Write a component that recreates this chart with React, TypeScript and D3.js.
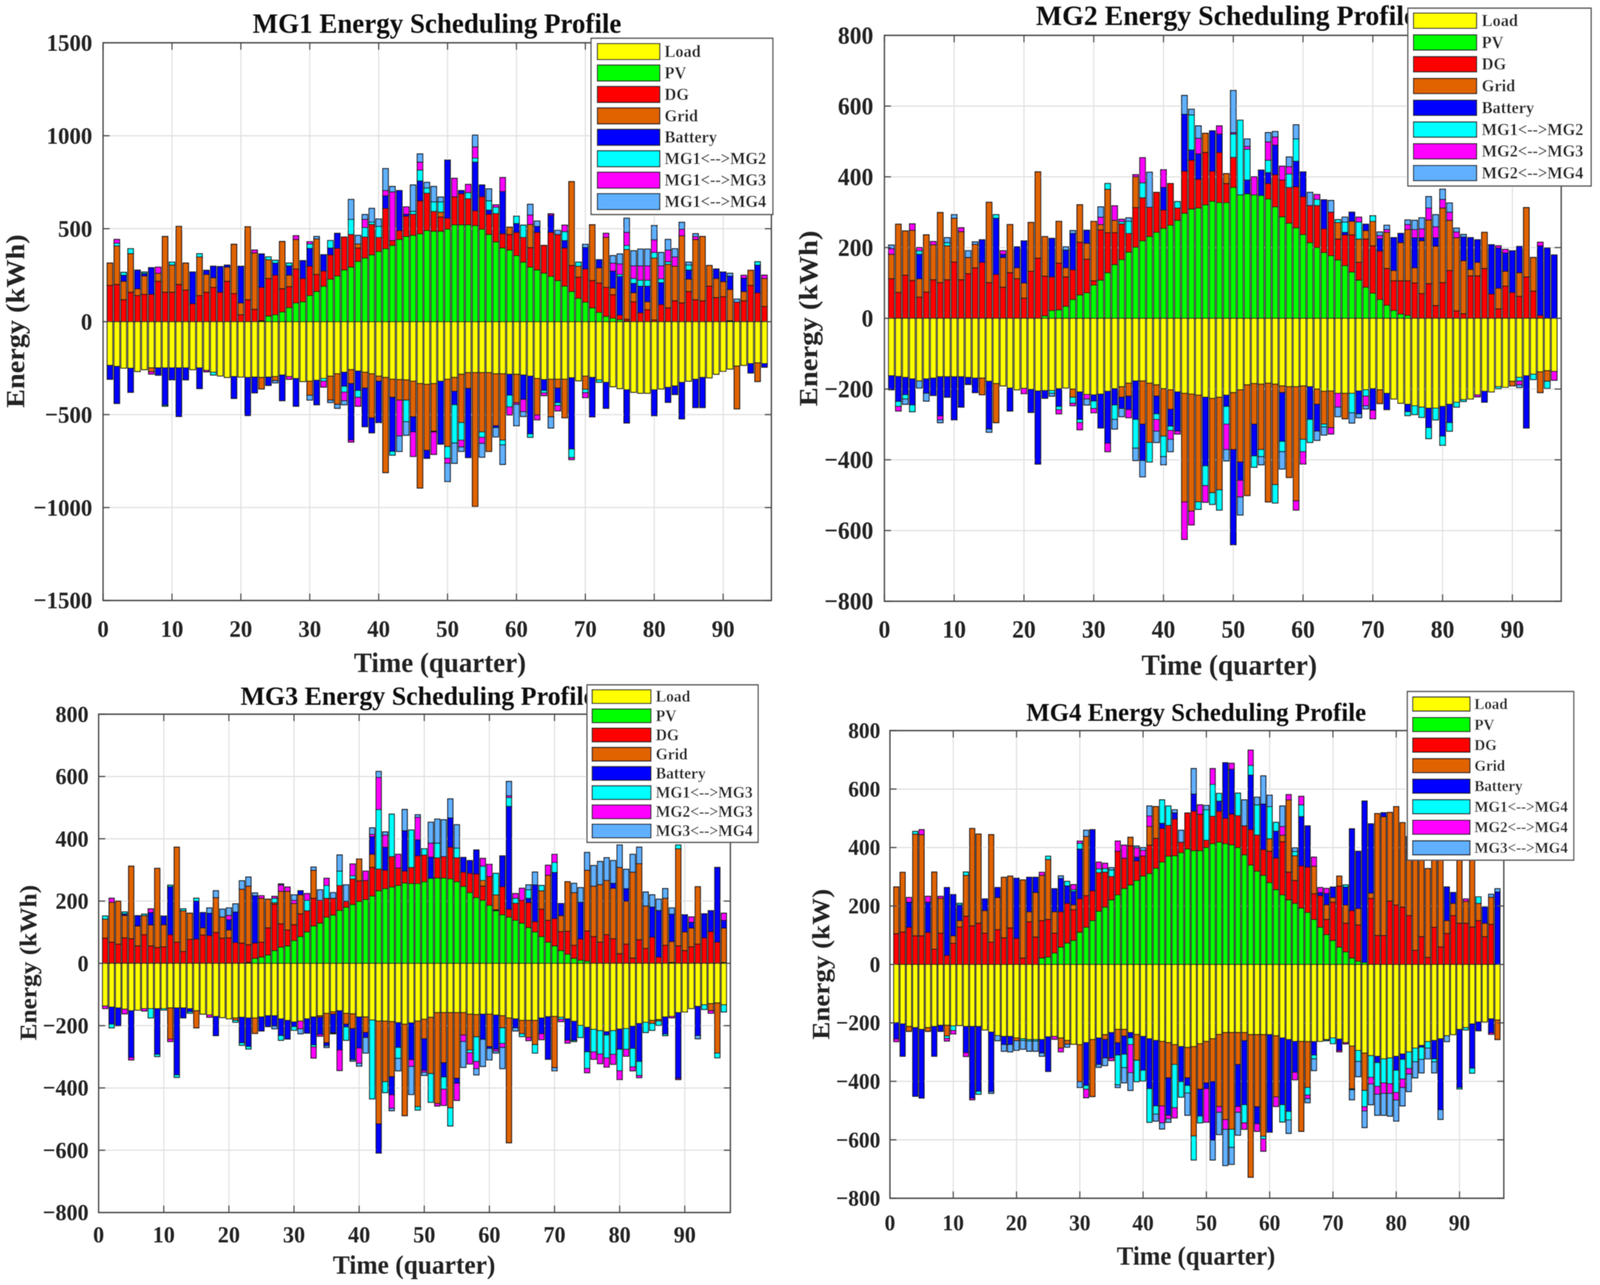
import React from "react";
import * as d3 from "d3";

const quarters = d3.range(1, 97);
const seriesColors = ["#ffff00", "#00ff00", "#ff0000", "#e06400", "#0000ff", "#00ffff", "#ff00ff", "#60b0ff"];
const baseLabels = ["Load", "PV", "DG", "Grid", "Battery"];
const xTicks = [0, 10, 20, 30, 40, 50, 60, 70, 80, 90];
const yTicksLarge = [-1500, -1000, -500, 0, 500, 1000, 1500];
const yTicksSmall = [-800, -600, -400, -200, 0, 200, 400, 600, 800];

// MG1
const mg1Load = [-235,-240,-250,-250,-268,-258,-248,-248,-248,-248,
-248,-248,-258,-248,-262,-272,-292,-300,-295,-298,
-300,-298,-300,-298,-295,-287,-295,-305,-322,-320,
-315,-305,-293,-280,-272,-258,-265,-272,-280,-293,
-300,-309,-311,-313,-320,-333,-337,-333,-320,-309,
-300,-283,-274,-274,-274,-274,-280,-280,-283,-283,
-287,-293,-305,-311,-309,-309,-309,-302,-318,-293,
-300,-313,-326,-350,-360,-366,-380,-385,-385,-366,
-362,-353,-346,-326,-320,-309,-300,-302,-283,-267,
-255,-239,-235,-225,-221,-225];
const mg1PV = [0,0,0,0,0,0,0,0,0,0,
0,0,0,0,0,0,0,0,0,0,
0,0,6,30,37,52,75,100,107,140,
162,190,228,245,278,293,324,342,359,377,
392,410,442,458,464,472,490,486,486,497,
521,521,521,517,497,469,429,396,385,355,
320,293,278,261,243,221,191,162,125,105,
74,50,28,18,11,3,0,0,0,0,
0,0,0,0,0,0,0,0,0,0,
0,0,0,0,0,0];
const mg1DG = [195,200,118,158,140,147,147,217,158,158,
200,170,96,140,158,184,158,217,151,37,
118,66,178,202,213,125,113,183,125,158,
92,82,131,149,177,176,72,113,164,76,
217,26,48,109,114,178,201,107,77,59,
151,167,140,79,175,109,153,77,84,125,
133,105,202,149,237,248,205,140,114,178,
147,158,156,127,24,10,107,48,64,9,
92,74,112,101,162,118,112,191,129,134,
5,105,112,195,155,81];
const mg1Grid = [120,207,99,208,37,98,-22,43,300,147,
312,145,0,208,96,52,0,76,265,63,
392,304,-62,101,-22,254,62,159,0,-76,
191,0,-129,-165,0,-75,22,-85,-237,-27,
-512,-98,-111,-109,-192,-562,-355,-256,26,-363,
-75,-260,-85,-720,-319,-424,-280,-357,39,-153,
0,125,-197,0,-203,-48,-208,451,59,-71,
300,81,269,35,0,375,48,0,43,333,
0,235,186,361,66,324,346,111,103,81,
168,-230,50,81,-101,151];
const mg1Battery = [-75,-200,33,-130,100,14,143,-40,-200,-65,
-262,-65,171,-112,22,62,138,11,-118,198,
-205,-85,180,-45,65,-138,50,-150,96,96,
-132,88,37,81,-76,-304,-105,-208,-81,-223,
68,-291,215,11,-81,107,-43,-5,-339,313,
-72,17,-372,262,63,22,-10,227,-113,48,
-131,-311,32,-59,92,-79,40,-383,0,116,
-212,44,-140,92,208,-179,51,143,84,-140,
118,-81,-46,-197,50,-153,-162,0,51,52,
72,0,72,-51,149,-20];
const mg1Link2 = [0,15,15,26,0,8,0,0,-7,15,
0,0,0,17,0,-15,0,0,0,0,
0,0,0,15,15,0,15,0,0,24,
0,-15,40,0,-31,81,-37,51,12,59,
0,-20,0,-116,15,58,28,51,55,-63,
-206,-94,33,22,-29,50,33,-26,-62,39,
66,-18,0,-13,0,-15,48,-46,22,-18,
0,-13,0,0,11,22,26,32,32,30,
20,13,0,0,26,0,0,0,0,0,
0,0,0,0,18,0];
const mg1Link3 = [0,20,0,0,0,0,-12,33,0,0,
0,0,0,0,-8,0,0,0,0,0,
0,15,0,0,0,0,-15,20,0,12,
0,-32,0,0,-46,-11,-48,44,0,0,
28,262,-193,39,-132,43,0,-120,0,-27,
99,-37,44,60,-33,0,13,75,-44,-9,
-66,51,-26,-15,8,-29,35,-11,0,-27,
0,0,22,43,57,70,68,77,77,68,
70,63,50,35,0,16,0,0,0,0,
0,0,15,0,0,18];
const mg1Link4 = [0,0,0,0,0,0,0,0,0,0,
0,0,0,0,0,0,0,0,0,0,
0,0,0,0,-12,0,0,0,0,-26,
13,0,-13,-21,-22,107,46,26,74,40,
118,29,-83,-73,142,44,30,83,26,-98,
-109,-24,0,63,-74,64,-50,-105,0,-115,
-26,57,29,0,-60,22,0,0,0,17,
0,0,0,40,53,76,81,90,90,77,
72,57,44,37,16,15,0,0,0,0,
15,16,0,0,0,0];

// MG2
const mg2Load = [-162,-164,-167,-171,-177,-171,-169,-165,-165,-165,
-165,-167,-169,-169,-178,-184,-191,-197,-202,-198,
-201,-205,-204,-204,-199,-197,-200,-208,-215,-216,
-214,-206,-199,-193,-183,-177,-177,-183,-188,-199,
-202,-208,-212,-214,-217,-223,-226,-223,-217,-210,
-202,-188,-184,-186,-183,-186,-191,-193,-193,-191,
-193,-200,-206,-205,-212,-212,-212,-205,-202,-199,
-202,-212,-228,-240,-243,-247,-251,-254,-254,-249,
-243,-237,-230,-228,-216,-206,-208,-193,-195,-178,
-167,-162,-158,-151,-148,-150];
const mg2PV = [0,0,0,0,0,0,0,0,0,0,
0,0,0,0,0,0,0,0,0,0,
0,0,7,22,24,34,53,66,72,94,
108,129,152,166,187,201,219,231,243,254,
263,277,297,309,312,321,331,327,327,370,
349,352,349,347,337,315,287,269,256,237,
214,200,186,177,165,149,131,108,88,71,
53,37,22,12,8,0,0,0,0,0,
0,0,0,0,0,0,0,0,0,0,
0,0,0,0,0,0];
const mg2DG = [112,73,122,107,60,74,109,101,109,159,
109,126,143,158,101,124,88,129,112,57,
133,170,112,95,132,83,84,149,95,12,
142,113,90,101,53,112,122,83,113,52,
118,35,119,138,81,148,85,142,54,85,
0,0,0,0,44,91,104,101,116,107,
105,119,67,123,59,87,105,50,136,134,
137,104,84,94,98,100,70,98,36,101,
135,21,13,120,120,141,69,27,91,73,
62,117,77,8,0,0];
const mg2Grid = [69,193,125,142,52,162,99,198,96,124,
136,46,66,-47,227,-111,84,136,31,43,
138,244,112,0,118,26,-23,106,45,168,
15,123,35,-30,-37,87,-122,-168,-32,-134,
-55,0,-307,-331,-302,54,-267,-262,28,-161,
-204,-313,-115,-185,-336,-284,-19,-257,-323,-151,
0,-43,-93,-104,47,-72,38,66,24,69,
-39,102,29,108,145,43,149,180,168,211,
142,207,150,18,38,102,0,58,42,-13,
67,196,95,-59,-30,0];
const mg2Battery = [-40,-71,-49,-74,69,-41,-49,-111,-58,-122,
-86,-20,-41,64,-135,159,9,-65,59,119,
-65,-207,-22,109,-50,50,103,-78,37,-18,
-96,-147,-46,-32,-38,-109,-103,0,-50,64,
-48,-111,161,29,72,-194,114,52,-32,-269,
-52,39,-90,72,31,84,-138,0,72,70,
-93,-76,82,0,0,7,26,-65,18,-61,
35,-46,93,26,-21,85,9,-55,24,-84,
-52,0,67,90,64,-31,139,114,52,118,
74,-148,0,197,199,179];
const mg2Link1 = [0,-14,-12,-19,10,0,0,0,9,0,
0,0,0,0,0,10,0,0,0,0,
0,0,0,-8,-9,0,-17,-9,0,-21,
0,16,-41,6,34,-81,42,-55,-16,-58,
-12,18,0,99,-21,-56,-33,-57,-50,66,
211,87,-32,-20,35,-52,-29,38,63,-35,
-65,17,-8,0,8,29,-55,48,-18,16,
0,0,0,0,-11,-25,-29,-31,-33,-26,
-24,-14,-5,0,0,0,0,-6,0,0,
-10,0,-15,0,-20,0];
const mg2Link3 = [16,-13,0,18,9,0,9,-11,0,0,
11,0,0,0,0,0,10,0,0,-15,
0,0,0,0,-12,0,-7,-20,-13,-12,
21,-24,41,7,-23,6,71,0,-33,50,
-25,-8,-106,-39,44,-47,0,23,-72,4,
-47,8,51,0,52,23,39,21,-26,-35,
0,14,0,-18,-39,0,0,14,-27,-24,
9,8,0,0,14,23,25,34,31,24,
23,16,0,0,-6,0,0,6,10,0,
-11,0,0,10,0,-25];
const mg2Link4 = [10,0,-15,0,-20,-22,0,-8,14,10,
0,19,7,0,-9,0,0,0,0,0,
0,0,0,-8,0,9,8,0,-17,0,
29,0,-27,-23,10,-35,-46,99,-32,-23,
-35,0,53,16,35,0,0,0,-32,119,
-51,21,0,-23,26,15,-49,27,40,0,
37,-26,-23,33,-27,14,-29,-11,-9,0,
10,12,0,0,13,26,31,32,34,29,
26,11,7,0,0,0,0,0,0,0,
-8,0,0,0,0,0];

// MG3
const mg3Load = [-137,-140,-143,-147,-152,-150,-145,-145,-145,-145,
-143,-143,-143,-145,-152,-163,-165,-170,-174,-178,
-175,-173,-175,-175,-172,-168,-168,-178,-183,-188,
-185,-178,-172,-168,-160,-155,-152,-160,-162,-172,
-172,-182,-185,-185,-187,-190,-195,-191,-185,-179,
-173,-158,-158,-158,-158,-158,-163,-164,-163,-163,
-166,-168,-175,-178,-183,-183,-183,-175,-171,-170,
-173,-178,-186,-199,-205,-212,-216,-219,-216,-211,
-209,-202,-193,-189,-183,-180,-172,-170,-158,-156,
-145,-138,-133,-129,-127,-133];
const mg3PV = [0,0,0,0,0,0,0,0,0,0,
0,0,0,0,0,0,0,0,0,0,
0,0,3,16,20,27,41,52,56,73,
86,101,120,129,148,155,170,180,189,199,
205,216,233,240,245,250,258,256,256,262,
273,274,274,271,262,247,227,211,202,186,
169,156,148,138,129,115,101,86,68,56,
41,29,16,10,7,0,0,0,0,0,
0,0,0,0,0,0,0,0,0,0,
0,0,0,0,0,0];
const mg3DG = [81,68,62,82,79,56,92,56,51,53,
92,68,38,77,78,91,89,99,81,82,
67,65,57,49,48,87,149,75,51,51,
73,68,89,73,61,54,80,19,82,66,
61,92,70,59,98,56,38,52,89,86,
0,65,69,102,77,46,62,76,46,93,
3,90,26,55,73,80,33,88,70,88,
61,74,42,68,97,86,68,92,79,31,
62,17,76,48,84,20,58,3,56,41,
53,62,82,102,68,3];
const mg3Grid = [61,128,138,72,233,64,61,67,254,71,
-100,305,131,84,-55,23,0,112,68,25,
-8,173,188,-50,141,92,5,104,124,68,
61,0,90,-5,-95,-8,0,-35,-47,70,
-50,42,-330,-195,-177,0,-294,0,-275,-63,
-181,-292,-161,-306,-211,-72,-115,-72,18,-104,
48,-39,-401,0,-43,-55,-78,59,145,-165,
51,159,169,0,195,162,185,174,162,277,
138,276,244,136,-10,-5,151,67,312,60,
60,184,0,-23,-161,110];
const mg3Battery = [0,-55,-57,5,-150,33,0,40,-147,28,
154,-215,-32,-10,122,49,72,-62,0,33,
98,-82,-92,152,-45,-35,-33,-54,-60,-15,
13,-46,-90,-55,-9,-60,-126,-9,-100,-100,
-16,57,-94,74,-58,-80,130,-118,52,-102,
68,0,-46,94,-16,47,41,77,-81,-6,
-110,99,330,-29,0,14,118,-51,-137,148,
39,-69,-61,118,-79,0,0,-11,16,-65,
40,-71,-122,0,97,150,-55,88,-211,55,
19,-94,77,67,240,25];
const mg3Link1 = [10,-12,0,6,0,0,5,-30,-7,-5,
5,-8,6,-5,9,0,0,0,0,0,
-6,-8,-8,0,0,0,14,-15,0,-12,
0,33,-6,0,41,0,46,-43,10,0,
0,-253,191,-35,136,-35,0,120,-11,20,
-92,47,-39,-58,31,0,-9,-79,46,0,
69,-50,28,16,-9,27,-27,17,0,32,
-6,0,-4,-39,-53,-72,-75,-73,-76,-69,
-67,-59,-45,-33,-22,-14,-5,0,12,0,
0,0,-15,0,-15,-23];
const mg3Link2 = [-8,13,0,-15,-8,0,-8,12,0,0,
-8,0,0,0,0,0,-8,0,0,14,
0,0,0,0,8,0,6,20,14,10,
-25,22,-36,-6,23,-3,-66,0,38,-49,
30,7,103,39,-43,44,0,-22,72,-6,
45,-8,-52,0,-55,-21,-36,-23,25,39,
-6,-13,6,15,39,-10,0,-19,32,26,
-8,-9,0,0,-14,-24,-31,-30,-32,-28,
-22,-13,-7,0,0,0,0,-5,-4,0,
17,0,0,-8,0,23];
const mg3Link4 = [0,0,0,0,0,0,0,0,0,0,
0,0,0,0,0,0,17,22,25,24,
26,27,29,9,0,0,-9,4,0,18,
-16,0,10,34,-6,18,52,53,-5,-9,
-50,21,19,10,-8,-40,68,-90,8,-10,
67,77,118,61,75,-83,0,-20,-87,-37,
-6,-68,46,-10,0,16,41,0,0,-10,
0,0,30,47,57,66,74,73,73,72,
62,57,53,45,39,36,31,20,0,0,
0,-10,0,0,0,0];

// MG4
const mg4Load = [-199,-203,-212,-216,-222,-216,-212,-208,-208,-210,
-209,-212,-212,-212,-224,-231,-243,-246,-246,-251,
-254,-257,-257,-257,-247,-246,-251,-260,-273,-274,
-267,-257,-251,-240,-233,-222,-222,-233,-239,-246,
-254,-260,-263,-267,-274,-281,-284,-281,-271,-263,
-254,-239,-233,-233,-233,-233,-240,-240,-240,-240,
-244,-251,-257,-263,-263,-264,-264,-263,-257,-251,
-255,-267,-279,-294,-303,-312,-314,-323,-320,-314,
-306,-299,-286,-277,-264,-260,-254,-244,-240,-222,
-216,-203,-197,-197,-186,-190];
const mg4PV = [0,0,0,0,0,0,0,0,0,0,
0,0,0,0,0,0,0,0,0,0,
0,0,0,22,25,39,59,73,82,110,
127,150,182,196,221,238,260,272,287,302,
311,329,350,370,372,382,395,389,389,400,
413,418,413,409,400,375,340,319,305,280,
256,238,221,209,193,178,154,127,102,82,
59,43,22,11,7,0,0,0,0,0,
0,0,0,0,0,0,0,0,0,0,
0,0,0,0,0,0];
const mg4DG = [105,111,127,98,98,110,52,107,31,72,
128,165,132,141,107,76,119,91,125,89,
22,146,94,128,129,68,121,136,105,115,
108,102,132,120,80,149,103,134,67,69,
97,102,115,106,125,36,123,135,125,25,
94,106,87,105,109,99,121,124,88,107,
108,182,95,78,144,155,88,108,52,131,
209,98,162,124,0,226,99,99,217,203,
196,167,48,95,24,127,60,106,167,141,
141,128,150,95,137,0];
const mg4Grid = [160,204,-17,348,346,-13,264,119,-37,26,
22,140,333,305,77,368,110,207,177,-10,
267,34,152,155,205,73,-35,-13,17,-127,
203,-195,0,-17,0,-46,-23,29,-89,0,
64,109,-221,-121,-68,0,-104,-306,-156,-142,
-147,-247,-298,-331,-109,-28,-488,-247,-348,43,
-209,22,247,85,-308,-157,94,0,50,16,
34,62,-146,56,-128,18,417,406,303,337,
289,216,340,276,304,244,470,44,42,284,
75,255,59,46,93,-67];
const mg4Battery = [-56,-111,86,-235,-235,103,-102,-21,232,141,
53,-90,-245,-222,40,-204,34,-28,-28,206,
0,118,52,-46,-119,79,114,60,46,170,
-147,209,-91,-63,-87,-42,-62,-18,13,-116,
-171,-224,18,-128,22,-120,-26,59,-92,-20,
-200,35,190,154,-144,-219,187,-58,156,-334,
92,-229,-246,-106,169,141,-46,11,39,36,
-39,62,280,196,552,237,-22,14,0,-48,
-19,55,0,-6,0,-63,-243,115,37,-199,
0,-152,-30,56,-48,248];
const mg4Link1 = [0,0,0,9,0,0,0,0,-8,-16,
6,11,0,-10,0,0,0,0,0,0,
-6,-5,-5,0,11,0,0,15,6,19,
-13,0,13,12,22,-102,-46,-23,-73,-37,
-115,-28,80,66,-148,-53,-26,-82,-23,104,
109,26,0,-62,77,-62,33,103,-9,110,
30,-59,-29,14,40,-26,-13,0,-4,-20,
0,7,-4,-38,-56,-74,-81,-82,-88,-76,
-67,-57,-47,-42,-22,-10,0,0,0,-5,
-8,-17,22,0,0,0];
const mg4Link2 = [-9,0,16,0,17,20,0,7,-9,-12,
0,-13,-6,0,0,0,0,0,0,0,
0,0,0,10,0,-10,-13,0,17,8,
-29,0,23,18,-9,35,45,-96,32,19,
36,0,-58,-12,-35,0,0,0,32,-115,
54,-20,-33,20,-20,-22,52,-26,-42,0,
-33,30,18,-26,29,-12,31,17,17,0,
-5,-5,0,0,-14,-23,-27,-36,-33,-26,
-29,-19,0,0,0,0,0,0,0,0,
8,0,0,0,-5,0];
const mg4Link3 = [0,0,0,0,0,0,0,0,0,0,
0,0,0,0,0,-6,-18,-23,-25,-33,
-30,-35,-35,-11,0,0,9,-10,0,-20,
21,0,-10,-26,8,-9,-52,-61,6,10,
34,-24,-21,-12,10,41,-76,87,0,15,
-68,-76,-124,-58,-78,89,0,26,96,39,
0,70,-46,13,0,-14,-40,0,0,0,
0,0,-34,-52,-57,-71,-72,-75,-78,-72,
-63,-60,-55,-46,-37,-38,-33,-20,0,0,
0,0,0,0,10,11];

type Box = { l: number; r: number; t: number; b: number };
type Panel = {
  title: string; yLabel: string; series: number[][]; links: string[]; yTicks: number[];
  box: Box;
  titleX: number; titleY: number; titleW: number; titleSize: number;
  yLabX: number; yLabC: number; yLabLen: number; yLabSize: number;
  xLabX: number; xLabY: number; xLabW: number; xLabSize: number;
  tickSize: number; yTickX: number; xTickY: number;
  leg: { l: number; r: number; t: number; b: number; sl: number; sr: number; y0: number; y1: number; sh: number; tx: number; fs: number };
};

const panels: Panel[] = [
  {
    title: "MG1 Energy Scheduling Profile", yLabel: "Energy (kWh)",
    series: [mg1Load, mg1PV, mg1DG, mg1Grid, mg1Battery, mg1Link2, mg1Link3, mg1Link4],
    links: ["MG1<-->MG2", "MG1<-->MG3", "MG1<-->MG4"], yTicks: yTicksLarge,
    box: { l: 279, r: 2088, t: 109.5, b: 1537 },
    titleX: 684, titleY: 84, titleW: 998, titleSize: 72,
    yLabX: 65, yLabC: 822, yLabLen: 444, yLabSize: 72,
    xLabX: 958, xLabY: 1720, xLabW: 466, xLabSize: 72,
    tickSize: 62, yTickX: 250, xTickY: 1630,
    leg: { l: 1600, r: 2092, t: 98, b: 549, sl: 1617, sr: 1786, y0: 132, y1: 516, sh: 41, tx: 1799, fs: 44 },
  },
  {
    title: "MG2 Energy Scheduling Profile", yLabel: "Energy (kWh)",
    series: [mg2Load, mg2PV, mg2DG, mg2Grid, mg2Battery, mg2Link1, mg2Link3, mg2Link4],
    links: ["MG1<-->MG2", "MG2<-->MG3", "MG2<-->MG4"], yTicks: yTicksSmall,
    box: { l: 2394, r: 4226, t: 90.5, b: 1539 },
    titleX: 2804, titleY: 64, titleW: 1030, titleSize: 72,
    yLabX: 2212, yLabC: 815, yLabLen: 450, yLabSize: 72,
    xLabX: 3090, xLabY: 1727, xLabW: 475, xLabSize: 74,
    tickSize: 64, yTickX: 2364, xTickY: 1632,
    leg: { l: 3811, r: 4307, t: 21, b: 476, sl: 3826, sr: 3997, y0: 53, y1: 443, sh: 39, tx: 4011, fs: 44 },
  },
  {
    title: "MG3 Energy Scheduling Profile", yLabel: "Energy (kWh)",
    series: [mg3Load, mg3PV, mg3DG, mg3Grid, mg3Battery, mg3Link1, mg3Link2, mg3Link4],
    links: ["MG1<-->MG3", "MG2<-->MG3", "MG3<-->MG4"], yTicks: yTicksSmall,
    box: { l: 267, r: 1977, t: 1828, b: 3103.5 },
    titleX: 651, titleY: 1804, titleW: 960, titleSize: 68,
    yLabX: 98, yLabC: 2464, yLabLen: 398, yLabSize: 65,
    xLabX: 901, xLabY: 3260, xLabW: 440, xLabSize: 68,
    tickSize: 60, yTickX: 240, xTickY: 3180,
    leg: { l: 1589, r: 2052, t: 1753, b: 2156, sl: 1603, sr: 1762, y0: 1783, y1: 2127, sh: 35, tx: 1775, fs: 42 },
  },
  {
    title: "MG4 Energy Scheduling Profile", yLabel: "Energy (kW)",
    series: [mg4Load, mg4PV, mg4DG, mg4Grid, mg4Battery, mg4Link1, mg4Link2, mg4Link3],
    links: ["MG1<-->MG4", "MG2<-->MG4", "MG3<-->MG4"], yTicks: yTicksSmall,
    box: { l: 2409, r: 4070.6, t: 1870, b: 3067 },
    titleX: 2778, titleY: 1845, titleW: 920, titleSize: 66,
    yLabX: 2245, yLabC: 2468, yLabLen: 386, yLabSize: 66,
    xLabX: 3023, xLabY: 3237, xLabW: 429, xLabSize: 67,
    tickSize: 58, yTickX: 2383, xTickY: 3149,
    leg: { l: 3809.5, r: 4260, t: 1770, b: 2201.5, sl: 3824, sr: 3979, y0: 1802, y1: 2170, sh: 36, tx: 3991, fs: 40.5 },
  },
];

const FONT = "'Liberation Serif', 'Times New Roman', serif";
const keys = d3.range(8);
const BAR_HALF = 0.4;
const fmt = (v: number) => (v < 0 ? "\u2212" + Math.abs(v) : String(v));

function ChartPanel({ p }: { p: Panel }) {
  const { box, leg } = p;
  const x = d3.scaleLinear().domain([0, 97]).range([box.l, box.r]);
  const yMax = p.yTicks[p.yTicks.length - 1];
  const y = d3.scaleLinear().domain([-yMax, yMax]).range([box.b, box.t]);
  const rows = quarters.map((_, i) => keys.map((k) => p.series[k][i]));
  const stacked = d3
    .stack<number[], number>()
    .keys(keys)
    .value((d, k) => d[k])
    .offset(d3.stackOffsetDiverging)(rows);
  const tick = 18;
  const axisCol = "#444";
  const labels = [...baseLabels, ...p.links];
  const legY = d3.scaleLinear().domain([0, 7]).range([leg.y0, leg.y1]);
  return (
    <g>
      {xTicks.slice(1).map((t) => (
        <line key={"gx" + t} x1={x(t)} x2={x(t)} y1={box.t} y2={box.b} stroke="#e0e0e0" strokeWidth={3} />
      ))}
      {p.yTicks.map((t) => (
        <line key={"gy" + t} x1={box.l} x2={box.r} y1={y(t)} y2={y(t)} stroke="#e0e0e0" strokeWidth={3} />
      ))}
      {stacked.map((s, si) => (
        <g key={si} fill={seriesColors[si]} stroke="#111" strokeWidth={2.6}>
          {s.map((d, i) => {
            const h = Math.abs(y(d[0]) - y(d[1]));
            if (h === 0) return null;
            const q = quarters[i];
            return (
              <rect
                key={q}
                x={x(q - BAR_HALF)}
                width={x(q + BAR_HALF) - x(q - BAR_HALF)}
                y={Math.min(y(d[0]), y(d[1]))}
                height={h}
              />
            );
          })}
        </g>
      ))}
      <line x1={box.l} x2={box.r} y1={y(0)} y2={y(0)} stroke="#222" strokeWidth={2.5} />
      <rect x={box.l} y={box.t} width={box.r - box.l} height={box.b - box.t} fill="none" stroke={axisCol} strokeWidth={3.5} />
      {xTicks.map((t) => (
        <g key={"tx" + t}>
          <line x1={x(t)} x2={x(t)} y1={box.b} y2={box.b - tick} stroke={axisCol} strokeWidth={3} />
          <line x1={x(t)} x2={x(t)} y1={box.t} y2={box.t + tick} stroke={axisCol} strokeWidth={3} />
          <text x={x(t)} y={p.xTickY} textAnchor="middle" fontSize={p.tickSize} fontWeight={700} fontFamily={FONT} fill="#222">{t}</text>
        </g>
      ))}
      {p.yTicks.map((t) => (
        <g key={"ty" + t}>
          <line x1={box.l} x2={box.l + tick} y1={y(t)} y2={y(t)} stroke={axisCol} strokeWidth={3} />
          <line x1={box.r} x2={box.r - tick} y1={y(t)} y2={y(t)} stroke={axisCol} strokeWidth={3} />
          <text x={p.yTickX} y={y(t) + p.tickSize * 0.33} textAnchor="end" fontSize={p.tickSize} fontWeight={700} fontFamily={FONT} fill="#222">{fmt(t)}</text>
        </g>
      ))}
      <text x={p.titleX} y={p.titleY} fontSize={p.titleSize} fontWeight={700} fontFamily={FONT} fill="#111" textLength={p.titleW} lengthAdjust="spacingAndGlyphs">{p.title}</text>
      <text x={p.xLabX} y={p.xLabY} fontSize={p.xLabSize} fontWeight={700} fontFamily={FONT} fill="#222" textLength={p.xLabW} lengthAdjust="spacingAndGlyphs">Time (quarter)</text>
      <text transform={`translate(${p.yLabX},${p.yLabC}) rotate(-90)`} textAnchor="middle" fontSize={p.yLabSize} fontWeight={700} fontFamily={FONT} fill="#222" textLength={p.yLabLen} lengthAdjust="spacingAndGlyphs">{p.yLabel}</text>
      <rect x={leg.l} y={leg.t} width={leg.r - leg.l} height={leg.b - leg.t} fill="#fff" stroke="#555" strokeWidth={3.5} />
      {labels.map((lab, i) => (
        <g key={lab}>
          <rect x={leg.sl} y={legY(i) - leg.sh / 2} width={leg.sr - leg.sl} height={leg.sh} fill={seriesColors[i]} stroke="#111" strokeWidth={3} />
          <text x={leg.tx} y={legY(i) + leg.fs * 0.32} fontSize={leg.fs} fontWeight={700} fontFamily={FONT} fill="#222">{lab}</text>
        </g>
      ))}
    </g>
  );
}

export default function App() {
  return (
    <svg
      viewBox="0 0 4331 3289"
      preserveAspectRatio="none"
      style={{ position: "fixed", left: 0, top: 0, width: "100vw", height: "100vh", display: "block", background: "#fff" }}
    >
      <defs>
        <filter id="soft" filterUnits="userSpaceOnUse" x={0} y={0} width={4331} height={3289}>
          <feGaussianBlur stdDeviation={1.1} />
        </filter>
      </defs>
      <rect width={4331} height={3289} fill="#fff" />
      <g filter="url(#soft)">
        {panels.map((p) => (
          <ChartPanel key={p.title} p={p} />
        ))}
      </g>
    </svg>
  );
}
